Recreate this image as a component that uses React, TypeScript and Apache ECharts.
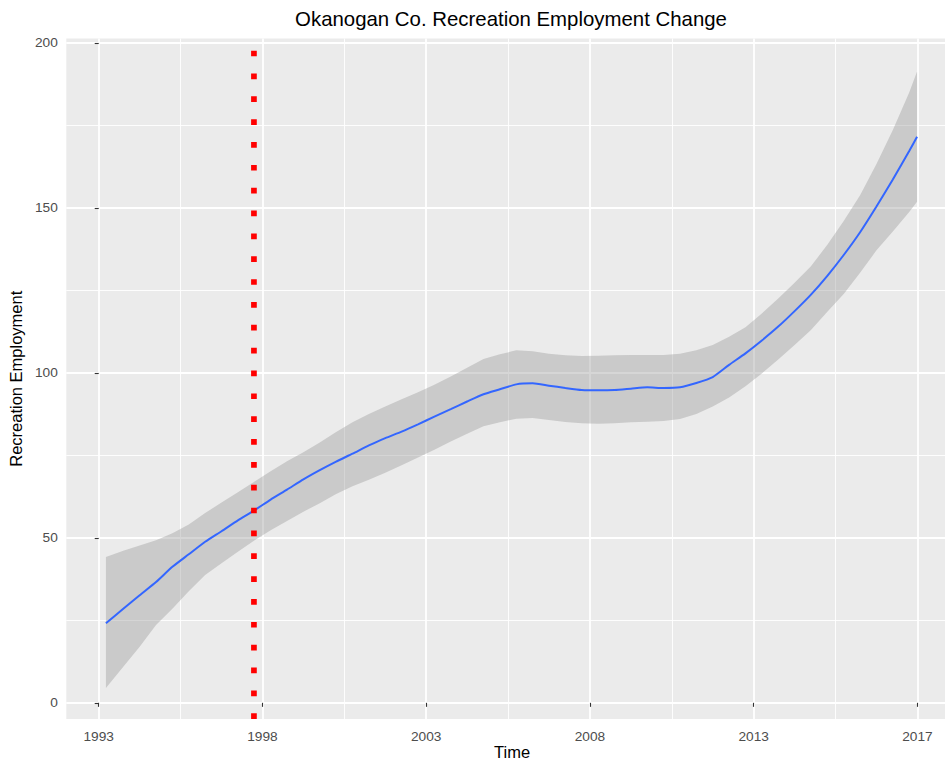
import React, { useEffect, useRef } from "react";
import * as echarts from "echarts";

const chartTitle = "Okanogan Co. Recreation Employment Change";
const xAxisTitle = "Time";
const yAxisTitle = "Recreation Employment";

const baseYear = 1993;
const xTickYears = [1993, 1998, 2003, 2008, 2013, 2018];
const xTickLabels = ["1993", "1998", "2003", "2008", "2013", "2017"];
const yTicks = [0, 50, 100, 150, 200];
const vlineYear = 1997.74;

const years = [
  1993.22, 1993.75, 1994.25, 1994.75, 1995.25, 1995.75, 1996.25, 1996.75, 1997.25, 1997.75,
  1998.25, 1998.75, 1999.25, 1999.75, 2000.25, 2000.75, 2001.25, 2001.75, 2002.25, 2002.75,
  2003.25, 2003.75, 2004.25, 2004.75, 2005.25, 2005.75, 2006.25, 2006.75, 2007.25, 2007.75,
  2008.25, 2008.75, 2009.25, 2009.75, 2010.25, 2010.75, 2011.25, 2011.75, 2012.25, 2012.75,
  2013.25, 2013.75, 2014.25, 2014.75, 2015.25, 2015.75, 2016.25, 2016.75, 2017.25, 2017.75,
  2017.99,
];
const fitValues = [
  24.1, 28.5, 32.6, 36.6, 41.2, 45.0, 48.8, 52.0, 55.3, 58.3,
  61.6, 64.6, 67.7, 70.5, 73.1, 75.5, 78.0, 80.2, 82.2, 84.4,
  86.7, 89.0, 91.3, 93.5, 95.0, 96.5, 96.8, 96.1, 95.4, 94.8,
  94.7, 94.8, 95.2, 95.6, 95.4, 95.6, 96.9, 98.7, 102.4, 105.9,
  109.8, 114.0, 118.7, 123.7, 129.4, 135.7, 142.6, 150.4, 158.6, 167.2,
  171.5,
];
const lowerValues = [
  4.5, 10.9, 17.0, 23.6, 28.5, 33.8, 38.7, 42.3, 45.8, 49.2,
  52.3, 55.1, 57.9, 60.5, 63.3, 65.6, 67.6, 69.7, 72.0, 74.3,
  76.7, 79.2, 81.5, 83.8, 85.0, 86.1, 86.3, 85.7, 85.1, 84.7,
  84.6, 84.7, 85.0, 85.2, 85.4, 86.0, 87.5, 89.8, 92.5, 95.9,
  99.8, 104.0, 108.4, 113.0, 118.5, 123.9, 130.3, 137.1, 142.8, 148.7,
  151.8,
];
const upperValues = [
  44.2, 46.1, 47.7, 49.3, 51.4, 54.0, 57.5, 60.7, 63.8, 67.0,
  70.2, 73.2, 75.9, 78.9, 82.1, 85.0, 87.5, 89.8, 92.0, 94.1,
  96.4, 98.9, 101.5, 104.2, 105.6, 106.8, 106.5, 105.8, 105.3, 105.1,
  105.2, 105.3, 105.4, 105.4, 105.4, 105.8, 106.8, 108.4, 110.9, 113.8,
  118.0, 122.5, 127.3, 132.3, 138.8, 146.0, 153.8, 163.3, 173.6, 184.9,
  191.3,
];

const X_MIN = -0.99;
const X_MAX = 26.24;
const Y_MIN = -4.9;
const Y_MAX = 201.3;

const FONT = "'Liberation Sans', Arial, Helvetica, sans-serif";

export default function App() {
  const ref = useRef<HTMLDivElement>(null);

  useEffect(() => {
    if (!ref.current) return;
    const chart = echarts.init(ref.current, null, { renderer: "svg" });
    const xTickValues = xTickYears.map((y) => y - baseYear);
    const xs = years.map((y) => y - baseYear);

    const option: any = {
      animation: false,
      backgroundColor: "#FFFFFF",
      textStyle: { fontFamily: FONT },
      grid: {
        left: 66.3,
        right: 0,
        top: 38.5,
        bottom: 44,
        show: true,
        backgroundColor: "#EBEBEB",
        borderWidth: 0,
        containLabel: false,
        outerBoundsMode: "none",
      },
      graphic: [
        {
          type: "text",
          x: 511,
          y: 19,
          style: {
            text: chartTitle,
            fill: "#000000",
            fontSize: 20.4,
            fontFamily: FONT,
            align: "center",
            verticalAlign: "middle",
          },
        },
      ],
      xAxis: {
        type: "value",
        min: X_MIN,
        max: X_MAX,
        splitNumber: 5,
        minInterval: 5,
        maxInterval: 5,
        name: xAxisTitle,
        nameLocation: "middle",
        nameGap: 24,
        nameMoveOverlap: false,
        nameTextStyle: { color: "#000000", fontSize: 16.5, fontFamily: FONT },
        axisLine: { show: false },
        axisTick: {
          show: true,
          customValues: xTickValues,
          length: 4,
          lineStyle: { color: "#333333", width: 1.1 },
        },
        axisLabel: {
          customValues: xTickValues,
          color: "#4D4D4D",
          fontSize: 13.7,
          fontFamily: FONT,
          margin: 10,
          formatter: (v: number) => {
            const idx = xTickValues.findIndex((t) => Math.abs(t - v) < 1e-6);
            return idx >= 0 ? xTickLabels[idx] : "";
          },
        },
        splitLine: { show: true, lineStyle: { color: "#FFFFFF", width: 1.8 } },
        minorTick: { show: false, splitNumber: 2 },
        minorSplitLine: { show: true, lineStyle: { color: "#FFFFFF", width: 0.9 } },
      },
      yAxis: {
        type: "value",
        min: Y_MIN,
        max: Y_MAX,
        splitNumber: 5,
        minInterval: 50,
        maxInterval: 50,
        name: yAxisTitle,
        nameLocation: "middle",
        nameGap: 40,
        nameRotate: 90,
        nameTextStyle: { color: "#000000", fontSize: 16.5, fontFamily: FONT },
        axisLine: { show: false },
        axisTick: {
          show: true,
          customValues: yTicks,
          length: 4,
          lineStyle: { color: "#333333", width: 1.1 },
        },
        axisLabel: {
          customValues: yTicks,
          color: "#4D4D4D",
          fontSize: 13.7,
          fontFamily: FONT,
          margin: 8.5,
          formatter: (v: number) => (yTicks.some((t) => Math.abs(t - v) < 1e-6) ? String(v) : ""),
        },
        splitLine: { show: true, lineStyle: { color: "#FFFFFF", width: 1.8 } },
        minorTick: { show: false, splitNumber: 2 },
        minorSplitLine: { show: true, lineStyle: { color: "#FFFFFF", width: 0.9 } },
      },
      series: [
        {
          type: "custom",
          name: "band",
          data: [[xs[0], lowerValues[0]]],
          silent: true,
          clip: true,
          z: 2,
          renderItem: (params: any, api: any) => {
            const pts: number[][] = [];
            for (let i = 0; i < xs.length; i++) pts.push(api.coord([xs[i], upperValues[i]]));
            for (let i = xs.length - 1; i >= 0; i--) pts.push(api.coord([xs[i], lowerValues[i]]));
            return {
              type: "polygon",
              shape: { points: pts },
              style: { fill: "#999999", opacity: 0.4 },
            };
          },
        },
        {
          type: "line",
          name: "fit",
          data: xs.map((x, i) => [x, fitValues[i]]),
          symbol: "none",
          smooth: 0.2,
          lineStyle: { color: "#3366FF", width: 2 },
          silent: true,
          z: 3,
        },
        {
          type: "line",
          name: "vline",
          data: [
            [vlineYear - baseYear, Y_MIN],
            [vlineYear - baseYear, Y_MAX],
          ],
          symbol: "none",
          lineStyle: { color: "#FF0000", width: 5.7, type: [5.7, 17.15], cap: "butt" },
          silent: true,
          z: 4,
        },
      ],
    };

    chart.setOption(option);
    return () => chart.dispose();
  }, []);

  return (
    <div style={{ position: "absolute", left: 0, top: 0, width: 945, height: 763, overflow: "hidden" }}>
      <div ref={ref} style={{ position: "absolute", left: 0, top: 0, width: 957.6, height: 763 }} />
    </div>
  );
}
